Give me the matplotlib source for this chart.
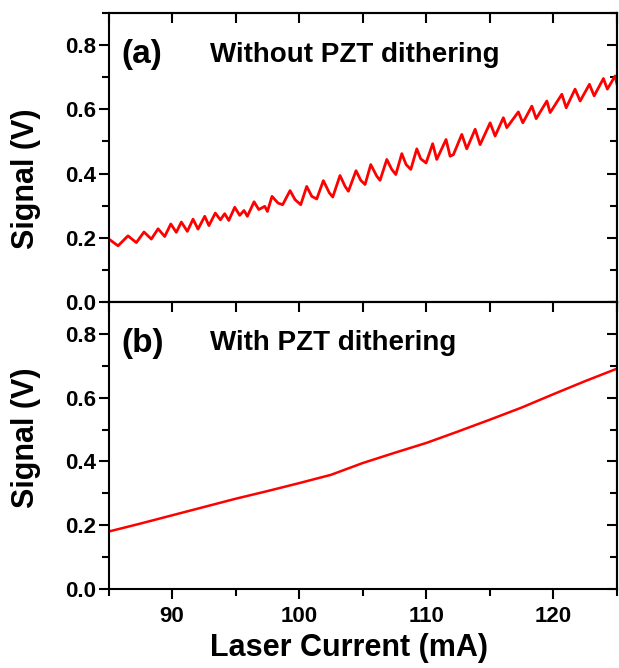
import matplotlib.pyplot as plt
from matplotlib.ticker import MultipleLocator

plt.rcParams['font.family'] = ['Liberation Sans', 'DejaVu Sans']
plt.rcParams['font.weight'] = 'bold'

# (a) without PZT dithering: fringe vertices (mA, V)
current_a = [85.1, 85.75, 86.53, 87.19, 87.79, 88.37, 88.9, 89.42, 89.9, 90.33,
             90.73, 91.2, 91.65, 92.04, 92.57, 92.9, 93.4, 93.8, 94.14, 94.46,
             94.93, 95.32, 95.66, 95.92, 96.45, 96.82, 97.29, 97.5, 97.86, 98.34,
             98.7, 99.28, 99.67, 100.12, 100.59, 100.99, 101.38, 101.9, 102.37, 102.64,
             103.21, 103.61, 103.87, 104.47, 104.84, 105.18, 105.63, 106.1, 106.36, 106.89,
             107.28, 107.6, 108.07, 108.41, 108.78, 109.25, 109.56, 109.98, 110.5, 110.82,
             111.55, 111.87, 112.13, 112.79, 113.18, 113.84, 114.23, 115.02, 115.41, 116.06,
             116.33, 117.24, 117.59, 118.3, 118.64, 119.48, 119.74, 120.66, 121.0, 121.7,
             122.1, 122.83, 123.2, 123.93, 124.24, 124.85, 125.0]
signal_a = [0.194, 0.175, 0.206, 0.185, 0.218, 0.196, 0.228, 0.204, 0.243, 0.217,
            0.249, 0.220, 0.258, 0.227, 0.267, 0.238, 0.277, 0.256, 0.275, 0.254,
            0.295, 0.270, 0.285, 0.267, 0.312, 0.288, 0.298, 0.282, 0.329, 0.308,
            0.303, 0.347, 0.319, 0.303, 0.360, 0.329, 0.321, 0.378, 0.340, 0.327,
            0.394, 0.360, 0.345, 0.409, 0.379, 0.366, 0.428, 0.392, 0.379, 0.444,
            0.413, 0.397, 0.462, 0.428, 0.413, 0.477, 0.446, 0.433, 0.493, 0.444,
            0.506, 0.454, 0.459, 0.522, 0.477, 0.538, 0.490, 0.558, 0.517, 0.574,
            0.543, 0.592, 0.558, 0.610, 0.571, 0.626, 0.590, 0.647, 0.605, 0.663,
            0.626, 0.678, 0.642, 0.696, 0.663, 0.704, 0.678]

# (b) with PZT dithering: smooth curve
current_b = [85.1, 87.5, 90.0, 92.5, 95.0, 97.5, 100.0, 102.5, 105.0, 107.5,
             110.0, 112.5, 115.0, 117.5, 120.0, 122.5, 125.0]
signal_b = [0.181, 0.205, 0.231, 0.257, 0.283, 0.307, 0.332, 0.358, 0.395, 0.427,
            0.458, 0.494, 0.531, 0.569, 0.611, 0.652, 0.691]

x_ticks = [90, 100, 110, 120]
y_ticks = [0.0, 0.2, 0.4, 0.6, 0.8]

fig = plt.figure(figsize=(6.19, 6.68), dpi=100)
ax_a = fig.add_axes([0.1753, 0.5479, 0.8215, 0.4326])
ax_b = fig.add_axes([0.1753, 0.1183, 0.8215, 0.4296])

ax_a.plot(current_a, signal_a, color='#ff0000', lw=2.0, solid_joinstyle='round')
ax_b.plot(current_b, signal_b, color='#ff0000', lw=1.8)

panels = [(ax_a, '(a)', 'Without PZT dithering', 0.426),
          (ax_b, '(b)', 'With PZT dithering', 0.526)]
for ax, tag, title, ylab_y in panels:
    ax.set_xlim(85, 125)
    ax.set_ylim(0, 0.9)
    ax.set_xticks(x_ticks)
    ax.set_yticks(y_ticks)
    ax.set_yticklabels([f'{v:.1f}' for v in y_ticks])
    ax.xaxis.set_minor_locator(MultipleLocator(5))
    ax.yaxis.set_minor_locator(MultipleLocator(0.1))
    for s in ax.spines.values():
        s.set_linewidth(1.5)
    ax.tick_params(which='both', direction='out', width=1.5, right=False, top=False)
    ax.tick_params(which='major', length=7)
    ax.tick_params(which='minor', length=5)
    ax.tick_params(axis='y', labelsize=16, pad=2)
    ax.tick_params(axis='x', labelsize=16, pad=5)

    # right and top ticks point inward, no labels
    sec_y = ax.secondary_yaxis('right')
    sec_y.set_yticks(y_ticks)
    sec_y.yaxis.set_minor_locator(MultipleLocator(0.1))
    sec_y.tick_params(which='both', direction='in', width=1.5, labelright=False)
    sec_y.tick_params(which='major', length=7)
    sec_y.tick_params(which='minor', length=5)
    sec_y.spines['right'].set_linewidth(1.5)
    sec_x = ax.secondary_xaxis('top')
    sec_x.set_xticks(x_ticks)
    sec_x.xaxis.set_minor_locator(MultipleLocator(5))
    sec_x.tick_params(which='both', direction='in', width=1.5, labeltop=False)
    sec_x.tick_params(which='major', length=7)
    sec_x.tick_params(which='minor', length=7)
    sec_x.spines['top'].set_linewidth(1.5)

    ax.set_ylabel('Signal (V)', fontsize=22, fontweight='bold')
    ax.yaxis.set_label_coords(-0.132, ylab_y)
    ax.text(86.0, 0.77, tag, fontsize=24, fontweight='bold', va='center')
    ax.text(93.0, 0.77, title, fontsize=20, fontweight='bold', va='center')

ax_a.tick_params(axis='x', which='both', labelbottom=False)

ax_b.set_xlabel('Laser Current (mA)', fontsize=22, fontweight='bold')
ax_b.xaxis.set_label_coords(0.473, -0.155)

fig.savefig('out.png', dpi=100)
